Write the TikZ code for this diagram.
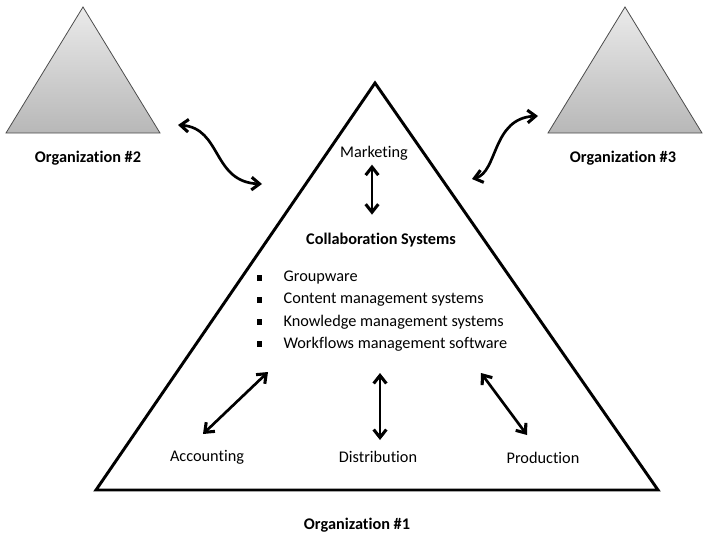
\documentclass[tikz,border=0pt]{standalone}
\usepackage{fontspec}
\setmainfont{Carlito}[Ligatures=NoCommon]
\usetikzlibrary{arrows.meta}
\tikzset{
  lbl/.style={font=\fontsize{12.2}{14}\selectfont, inner sep=1pt},
  orglbl/.style={lbl, font=\fontsize{12.2}{14}\selectfont\bfseries},
  link/.style={line width=2pt, {Straight Barb[length=6pt,width=9.5pt,line width=2.3pt]}-{Straight Barb[length=6pt,width=9.5pt,line width=2.3pt]}},
  sideorg/.style={draw=black!70, line width=0.6pt, top color=black!8, bottom color=black!28}
}
\begin{document}
\begin{tikzpicture}[x=0.75pt, y=-0.75pt]
  \useasboundingbox (0,0) rectangle (714,539);
  % other organizations
  \path[sideorg] (83,7) -- (160,133) -- (6,133) -- cycle;
  \path[sideorg] (625,7) -- (702,133) -- (548,133) -- cycle;
  \node[orglbl] (org2) at (88,158) {Organization \#2};
  \node[orglbl] (org3) at (623,158) {Organization \#3};
  % organization #1
  \draw[line width=2.2pt, line join=miter] (375,83) -- (658,490) -- (96,490) -- cycle;
  \node[orglbl] (org1) at (357,525) {Organization \#1};
  \node[lbl] (mkt) at (374,153) {Marketing};
  \node[orglbl] (collab) at (381,240) {Collaboration Systems};
  \foreach \item [count=\i] in {Groupware, Content management systems,
      Knowledge management systems, Workflows management software} {
    \node[lbl, anchor=west] (sys\i) at (282,256+22*\i) {\item};
    \fill ([xshift=-17pt]sys\i.west) +(-2pt,-2pt) rectangle +(2pt,2pt);
  }
  \node[lbl] (acc) at (207,457) {Accounting};
  \node[lbl] (dist) at (378,457) {Distribution};
  \node[lbl] (prod) at (543,458) {Production};
  \coordinate (accin) at (268,372);
  \coordinate (accout) at (203,434);
  \coordinate (distin) at (380,373);
  \coordinate (distout) at (380,440);
  \coordinate (prodin) at (481,373);
  \coordinate (prodout) at (527,435);
  \coordinate (leftout) at (178,125);
  \coordinate (leftin) at (262,184);
  \coordinate (rightin) at (472,179);
  \coordinate (rightout) at (538,116);
  % connectors
  \draw[link] (mkt.south) ++(-2,3) -- ++(0,50);
  \draw[link] (accin) -- (accout);
  \draw[link] (distin) -- (distout);
  \draw[link] (prodin) -- (prodout);
  \draw[link] (leftout) .. controls (222,128) and (212,182) .. (leftin);
  \draw[link] (rightin) .. controls (498,172) and (492,118) .. (rightout);
\end{tikzpicture}
\end{document}
